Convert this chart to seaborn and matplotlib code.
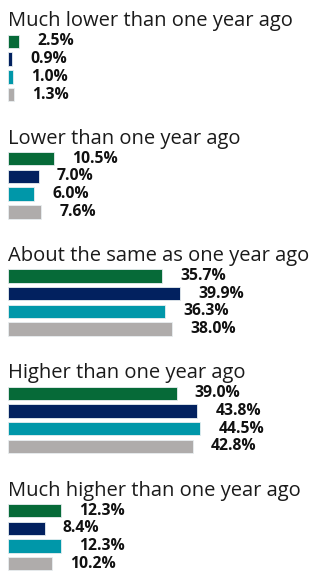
import pandas as pd
import matplotlib
matplotlib.use('Agg')
import matplotlib.pyplot as plt
import seaborn as sns

# 데이터
categories = ['Much lower than one year ago', 'Lower than one year ago',
              'About the same as one year ago', 'Higher than one year ago',
              'Much higher than one year ago']
series = ['Series 1', 'Series 2', 'Series 3', 'Series 4']
much_lower = [2.5, 0.9, 1.0, 1.3]
lower = [10.5, 7.0, 6.0, 7.6]
same = [35.7, 39.9, 36.3, 38.0]
higher = [39.0, 43.8, 44.5, 42.8]
much_higher = [12.3, 8.4, 12.3, 10.2]
values = [much_lower, lower, same, higher, much_higher]

colors = ['#066a38', '#02215f', '#0097a9', '#afacab']

sns.set_theme(style='white')
plt.rcParams['font.family'] = ['Open Sans', 'DejaVu Sans']

W, H = 309, 571
fig = plt.figure(figsize=(W / 100, H / 100), dpi=100)

px_per = 4.315       # 1% 당 픽셀
left_px = 8.3
slot = 17.7
ax_h = slot * 4
for k, (cat, vals) in enumerate(zip(categories, values)):
    top = 32.6 + 117.3 * k
    ax = fig.add_axes([left_px / W, 1 - (top + ax_h) / H, 70 * px_per / W, ax_h / H])
    df = pd.DataFrame({'series': series, 'value': vals})
    sns.barplot(data=df, x='value', y='series', hue='series', palette=colors,
                saturation=1, orient='h', width=0.76, legend=False, ax=ax,
                linewidth=0.6, edgecolor='#e8eef0')
    ax.set_xlim(0, 70)
    ax.set_ylim(3.5, -0.5)
    for c in ax.containers:
        ax.bar_label(c, fmt='%.1f%%', padding=13, fontsize=11.3, fontweight='bold',
                     color='#111111')
    ax.set_title(cat, loc='left', fontsize=14.5, color='#1a1a1a', pad=4.5)
    ax.axis('off')

plt.savefig('out.png', dpi=100)
plt.close()
